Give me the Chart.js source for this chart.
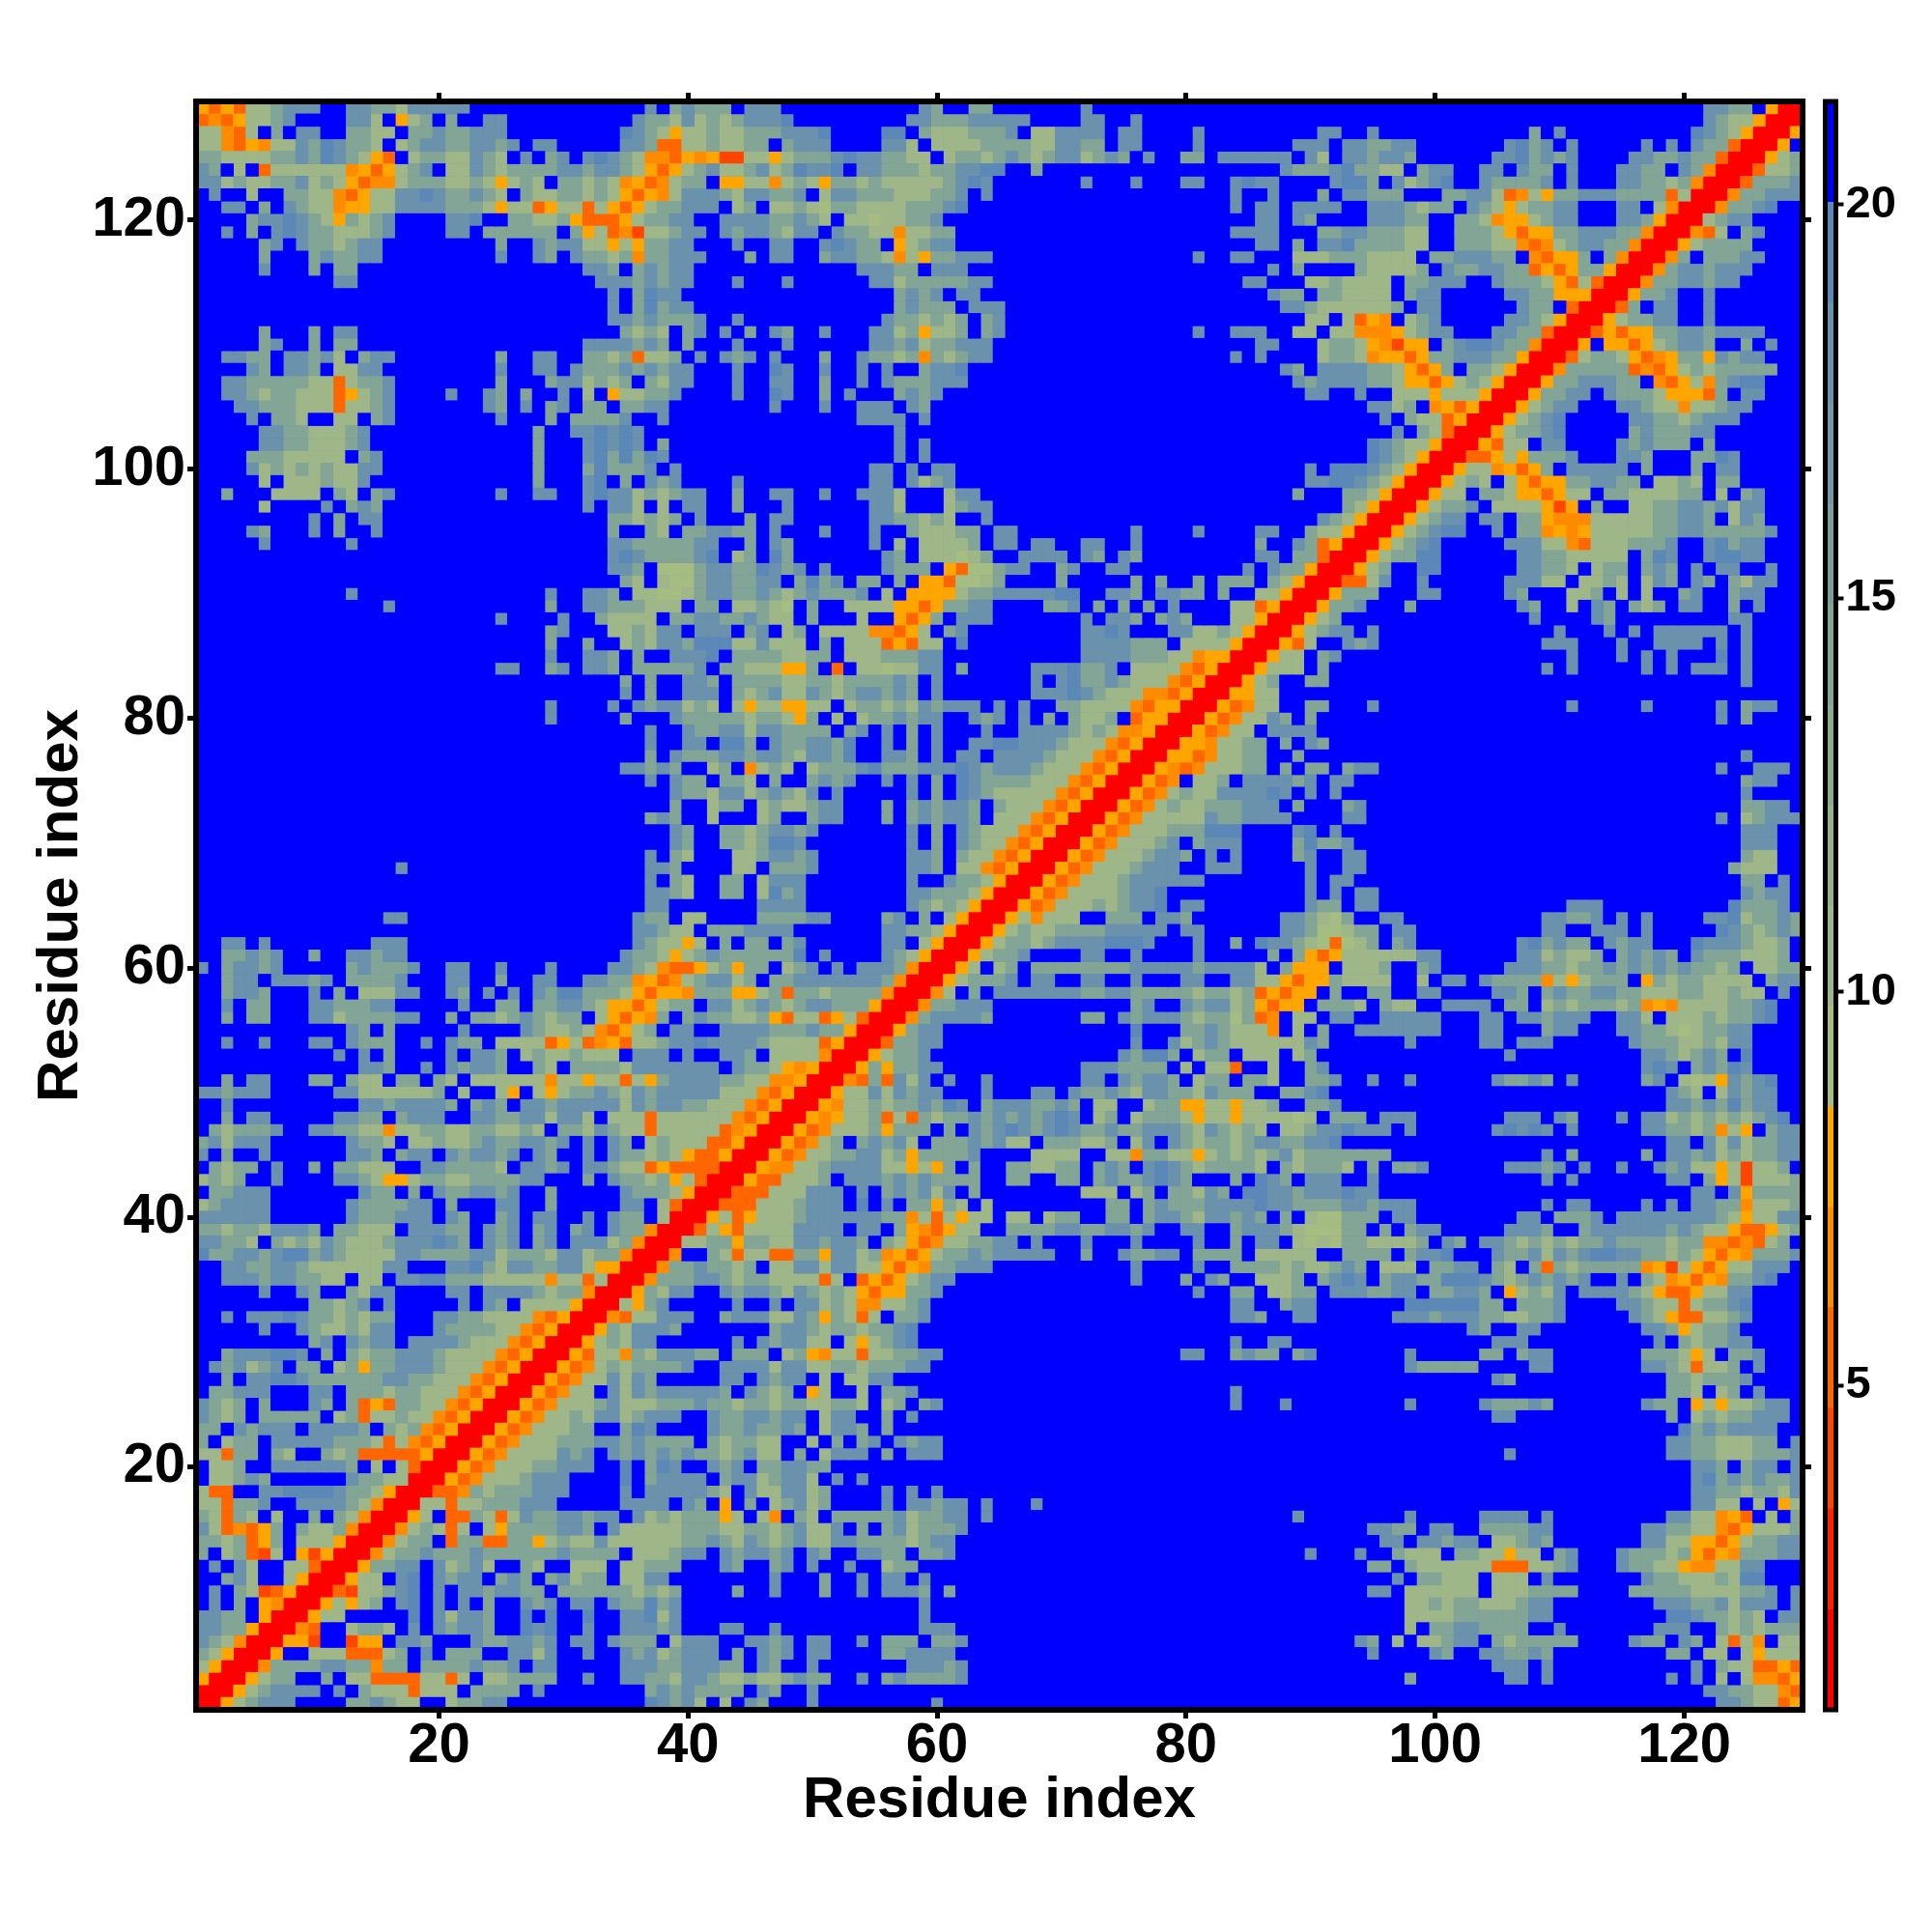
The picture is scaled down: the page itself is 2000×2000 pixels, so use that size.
<!DOCTYPE html>
<html>
<head>
<meta charset="utf-8">
<title>Residue distance map</title>
<script src="https://cdn.jsdelivr.net/npm/chart.js@4/dist/chart.umd.js"></script>
<style>
  html, body { margin: 0; padding: 0; background: #fff; }
  #map { position: absolute; left: 0; top: 0; }
  #bar { position: absolute; left: 1870px; top: 0; }
</style>
</head>
<body>
<canvas id="map" width="2000" height="2000"></canvas>
<canvas id="bar" width="130" height="2000"></canvas>
<script>
// The map is symmetric, so only x <= y is stored. Each list is a block of rows,
// first row at the given y, first char at the given column. Short rows end in blue.
const cellsCol1Y129 = [
  "ynynggmttt..ttmmgttttt", "nonyggmt....ttg.ygm.m..tt", "ggong.m.tt..mmgg.mmtmmttt",
  "ggonyoggtmstmmg.gmttmmttmt.tt", "mmggggmmtmstmgyn.gmmggtmg.t.mt.ts", "tm.g.nggggggoynygmt.ggtmgmmmmttmt",
  "ttgmggmmtgmgynoogmmmggmgygmg.mmgm", ".t..g..mmggonyggttstmmtmg.mggmmgm", "..tt.m.tmggoyyggttttmmmgyggnyggng",
  "....mttstmgymgmt....tts..mmggmynn", "..t.m.tstmmgggmt....tt.mmmmmm.myg", ".....mt.tmmgmtt.........m..tmttgg",
  ".....m...mtmmtt.........t..tm.tmm", ".....t...m.mm..................tt", "...........tt...................t",
  "", "", "",
  ".....m...m.tt", ".....mt..m.mm..................tt", "..ttmm.ttmtg.mtt........m..tt..mm",
  "....tm.ttm.ggtt.........t..tt.tmm", "..ttmmmmmggngmmt........m...mttgm", "..ttmgmmgggnygmt....t..tm.m..t.g.",
  "...ttmmmgggnggmt.......tm.t.mt.mm", "....t.mmg..gg.mt........t...m.mmm", ".....ttmmgggmt.............m..tts",
  ".....ttmmgggmt.............m...ts", "....mmmggggg.mt............m...ts", "....tgmgmgmggtt............m...ms",
  ".....g.gggmggt.............m...ts", "..m...gggg.mg.mt........t..tt..ts", ".....g....t.mtm................t."
];
const cellsCol34Y129 = [
  "...t.mtmmm.ttt...........tm..mm..", "..tmmgtgmgmttts.........ttmmmtttt", ".stmgyggmggmmmttts....ss.mgggmmmt",
  ".ttmnnggmggmm.mttt....ttg.ggggmmm", "tmgoonyoyrrggygmmmtsttmmgg.gmmgmt", "tmgynygmtggmtgmstts.ttmmmgmmttss.",
  "goynogmm.yyggogmgymmgmgggggmtst..", "gynyogtttmgttmmt.gttmmmgggmmt.t..", "ynygmmttt.gm.ggmghmmggggmmmts....",
  "nygmmtt..ttttmmtmg.gghggmmt......", "norggmtt.tmttmgtt.tmmggoggmm.....", "ygymmtt...t..tt..tstmm.ygmtt.....",
  "gmommttt...m.tt..mttmmgogymmttt..", "m.mtmtt.............tttmm.ttt....", "ttmtmtt...t...t......ttgmmmmmtt..",
  "t.mstt.................mtmt.tt...", "t.msmtt................mtmmm.ttt.", "ttmtmmmt..t...........tmmgmgm.mt.",
  ".mgmg.mt.t.m.tm..t...ttgmyggm.mt.", "ttmtm.m...t...t......ttmtgmmttt..", "gmnggm.t.tmt.t...m..tmmgmomgmtt..",
  "mtmtmtt...t..st..t..t.t..mtts....", "gm.mgtt...t..tt..m..t.tmmmttt....", "yggmmt....t..st..m.t...mtmt......",
  ".mmtt........t...t..ttt.tm.......", "mt..t...............tttt.t.......", "tst....................t",
  "tst.m..................t.t", "msmst..................t.t", "mmmt.t...............tt.t.tt",
  ".m.tmt....t..........tt.tgmt", "ttgmgmtt..m..tt..t..tttg...gtt...", "ttg.g.tt..m...t......ttg...gmtt.."
];
const cellsCol67Y129 = [
  ".....t", "t....tt..t", ".ggtttt.tt....t.........tt..t",
  "mggttmm.tt....t.......ttt.ttmmtt.", "mgmttgmtm.t..mm.tttttt.tg.ttmttm.", ".m...................tmmmtsmmgg.m",
  ".....t...t...tt..tstt....tssm.tgm", ".................t..t...m.ttmmm..", ".................t.tt.tttt..tttmg",
  "...................tt.tm....tttmm", ".................tttt...mmttmmmgg", "...................tt.m.ttsmmmmgg",
  "..............t..tt...gggmmmgggg.", "....................t.m....mggggm", "..................tt...ggmgggg.mm",
  "....................tmm.mmgggg.mt", ".....................ttmggggggm.t", ".......................gg.gnyo.gm",
  "..............t..ttt..gg.ggoooygm", "...................tt...gmmgyoryy", ".................t.t....gmmgoyyny",
  ".....................tm.ttttmmgyn", "......................tmttttmmgyy", ".......................tt..t..ggg",
  "............................ttgm.", ".............................t.mg", "..............................t.m",
  "............................stmgg", "............................stmgy", ".......................t.ssstmgyR",
  ".......................ttsstmgyRR", "......................m...mmgyRRR", "..........................mgyRRRy"
];
const cellsCol100Y129 = [
  "......................ttmm.yRR", "......................tmggyRR", "........m.t..........stmgyRR",
  "......tsmt.t.....t.t.tmmnRR", ".....ttsmtmt....ttmmtmmnRR", "tt..tt.tmm.t...ttmm.tmoRR",
  "ts..tmmmmt.t...ttmmgmoRR", ".mmttgnogymmtttmmmmngRR", "mm.tmgygmmtt...tt.goRR",
  "..mmgoyygmtt...ttmyRR", "..mmmgynyymmtttmmoRR", "..mmmggonogmttmmoRR",
  "mmtttmm.onyym.moRR", ".tmmttmmnynymmyRR", "ttt..tmmmgyngnRR",
  "t.....ttmmyyyRR", "t......tmm.nRR", "t.....ttmgyRR",
  "tt...ttmmnRR", ".mtsstmmoRR", "mmtttmmyRR",
  "ym.mmgyRR", "nygmgyRR", "ygggyRR",
  "oynyRR", "gnyRR", "gnRR", "yRR", "RR", "R"
];
const cellsCol1Y96 = [
  ".........t.m.tt", "....tm...t.m..t", ".....t......t",
  "", "", "",
  "............t...............t..tt", "...............t............m..tt", "........................t....t..m",
  "............................mt", "............................m..m", "............................t..tt",
  "........................tt..mt.tt", "", "",
  "............................t", "............................t", "",
  "", "", "", "", "", "", "", "", "", "",
  "................t", "", "", "",
  "...............tt"
];
const cellsCol34Y96 = [
  "mmgmgm.t...m.tt......ttmmgmg..t..", "m..mg.mmttmm.t...t...t..mgggmm.tt", "ttmmmmmtt..m.tm......t.g.ggggm.tt",
  "tstmmmmts.gm.sm.......tm.ggghgm..", "ttm.hhhmttmmstmt.t....tmmm.ynhhmt.", ".mg.ghhmttmmtt.msmt.mm.m.yynhhgm.",
  "m.gghhgmttmmtmgmtmmmt.g.yyyygmmtt", "mmmggg.mm.ggmgh.m..ggggyynymmtt..", "gggg.mmttmmtmgg.m...g..ynym.ttt..",
  "ggmgtt.ttt.mt.gm.ggggoonyg.mt....", ".gmgttmsssggtggg.m.gggnyngg.s....", "m.m..ttts.mmmmggmm.gggmmmtt......",
  "m.mmmmmt.mmgggyym.n.gghggtt.m....", ".m.m..ttm.mmmmggmmgmmmmtm.t......", ".t.m..ttt.mgmtggtmgmttmtm.t......",
  "t.tmttgmg.gyggyygg.gmmgmgtmttt.t.", ".m...tmmmmmgmmgym.g.gmmtmtt..tmt.", "...t..tmmttgttmmmm.mt.t.m.t...t..",
  "...t..tt.ssm.tmmttms..t.m.t..ttss", "...m.tmmmttmttmgttms..ttm.t.tt.tt", ".ttmtm..gm.ogmg.gmmmtsmmmtttstmtt",
  "...t.tmm.mmg.m..mtmt..t.t.m.stmmm", ".....tmmgttgmtmgt.t.....t.m.stmgg", ".....m..gmm.gmggmtt...m.mtmttm.mg",
  "...mtm..g...gm..mtt...m.mtmttm.gg", ".....tm..mmgmttmt.......t.m.tmggg", ".....tm..mmgmsst........t.m.tmggo",
  "...t.mg...ggmttmt.......ttm.mggon", "...ttm....gg.mmmt.......ttm.ggony", "...t.mg..mm.gttt........t..tmmgyR",
  "...ttmg..mm.gsmt........ttmmmgyRR", "...tt.......tttt........tmgmgyRRR", "..tmm.gg....mmmmtt....mt.m.gyRRRy"
];
const cellsCol67Y96 = [
  "........................tmgyRR", ".........t....t....tt..mggyRR", ".tt..tt..t.........m..tmnyRR",
  "tttt.tm.tm.........tt.mmnRR", "t..mt..tt.........t.tmmyRR", "...m.....m.m..m.mmm.mgyRR",
  "tttss..ttm.ttmm.m..ggyRR", "..mmt.m.m.m.t....ggnyRR", ".....t.ttm.mtm...ggyRR",
  ".....ttst...ttggmgyRR", ".....ttttmmm.ggggyRR", ".....ttttmmmggoyyRR",
  ".tttsmmt.ggggonyRR", ".t.tsmmtmgggonyRR", ".tttstmgggoonyRR",
  "t..mmggggonyyRR", "t.m.mggm.nyyRR", "ttttmgmgooyRR",
  "tttmgggonyRR", "ttmgggonyRR", "tmgggonyRR",
  "mgggonyRR", "gggonyRR", "ggonyRR",
  "gonyRR", "onyRR", "nyRR", "yRR", "RR", "R"
];
const cellsCol1Y63 = [
  "", "..tt.t........ttt", "..mmtmt..m..ttmtt",
  "t.mttmt.....mtmmmt..tt..t...t", "..mtt.tttmt.mmmmt...tt..m..tt..tt", "..mttm...t.m.gggtt..tm.t.t.tmssmm",
  "..t.mm...ttmmmtt.....t..mm.mmttmg", "..m.mm...ttgmmmmtt..m.mmgmtmgmm.g", "............tm.m.....t....tmggmgo",
  "..t..t...tt.tmmm..t.tmm.ggggnygno", "...........t.t.m....t.ttm.gmggmgg", ".............ttm..t.tmttm..mg.mmm",
  "..m.tt...mm.mgg.mm.mg.ggggggoggyg", "ttmttt.....ttggggggm.g..gy.gygmmt", "..t..........ttmttttm.mtm.ttmtttt",
  "..m.tt.....ttmm.mttt..ttmmttgttg.", ".mgmmmt..ttmmggoggmmggmmggmg.mmgt", "mtgttt......tmmg.ggmggmtmmttmt.t.",
  "t.m..t......ttm.mtt.tmttmt.tm..t.", ".mgmm.t..m.mmggg..ttmmmmg.ttmt.tt", "gmgm..t....ttmgyygmmggmmmmtt...m.",
  ".mmttt.......tmm.m.tmmttmt..m....", "gmtttt......tmmmmtt.m...tt..m....", "tttttt......tmmmttt.tm..mt.tt..t.",
  "mmgmmgtttm.mmggg.tttmm.tmt.mt.mt.", "ttmmg.mgmgtmgggmtttstm.tmt.mt.ttt", "smmttmtssmtmggggttmmmmttgmmmgttgm",
  "..ttmmttmggggggtt...ttsmgttmmttgy", "..tttmttmmgg.gg.ttssmmmgggggoggng", ".....t..tm..mgtt....tt.ttttmgmmoR",
  ".........mmgmt.t.....t.tm.ggggyRR", "..t.tttstmmgmgmm...ttmmggggonyRRR", ".....t..tmggmgtt...tmmmmggonyRRRy"
];
const cellsCol34Y63 = [
  "..ttmgg.mmmtttt.......ttmmgyRR", "..tmggyg.m.mm.mt......tt.gyRR", ".tmmgygmtmmmmmms.t....tmgyRR",
  "ttmgonnygmymm.gmt.t.tttmoRR", "mmoynogmttgm.mmtttttttmoRR", "mgynyyommmyygmnmmgmmmmoRR",
  "yynygmm.ttgmtmgmttmmmyRR", "ynyom.mtmmggmynggnygnRR", "nygm.tt..ttttmmmtmmyRR",
  "ynggmttsttttmggggnyRR", "g.ttt.t..ttm.ggggoRR", "mgttttttt.tmmgyoyRR",
  "gngymttttmmggooyRR", "mgtmtttttgggonyRR", "tgtmttmmgggonyRR",
  "gggnggggggonyRR", "mggngggggnoyRR", "tm.gmgggnnyRR",
  "tmmgmgynnyRR", "mggnynnnnRR", "tmmgmygnRR",
  ".tmmmgyRR", ".tt.gnRR", "tmm.gRR",
  "tmmoRR", "gmoRR", "moRR", "yRR", "RR", "R"
];
const cellsCol1Y30 = [
  ".........mt.tmtt.ttttmgggonyRR", "..mtttsst.m.mgmmtttmggggonyRR", ".tmtgmt.mm.gmymmtttmgggonyRR",
  "..m.ttsstmmmmmmttmmgggonyRR", ".mmttt...tt.mmmgmmgggonyRR", "tmgm.m...tm.mnynmmggonyRR",
  "tmgm.mmmmm.gmnggmggonyRR", "mm.tmttt.ttttm.mgmonyRR", "m.gmm.tttttmmmgngonyRR",
  "ggnmm.mg..mgmnnnnnyRR", ".ggm..ttttttm.g.gnRR", ".ggmtm......tmmggRR",
  "gnn..ttsssstmmgyRR", "ggnmmt..ttttmgoRR", "mgnmg.g..m.mgoRR",
  "tgnonym.mggmoRR", "mmgmnym.gggyRR", "m.gmnrg.yryRR",
  ".t.tg..ggnRR", "..mtg..gyRR", ".t.mgrnyRR",
  ".t.m.yoRR", "ttmm.yRR", "ttmmyRR",
  "tmgoRR", "mgyRR", "gyRR", "yRR", "RR", "R"
];

const cellBlocks = [
  [1, 129, cellsCol1Y129], [34, 129, cellsCol34Y129], [67, 129, cellsCol67Y129], [100, 129, cellsCol100Y129],
  [1, 96, cellsCol1Y96], [34, 96, cellsCol34Y96], [67, 96, cellsCol67Y96],
  [1, 63, cellsCol1Y63], [34, 63, cellsCol34Y63],
  [1, 30, cellsCol1Y30]
];

const residueCount = 129;
const axisTicks = [20, 40, 60, 80, 100, 120];
const barTicks = [5, 10, 15, 20];
const barEdges = [0.88, 2.15, 3.43, 4.71, 5.99, 7.26, 8.54, 9.82, 11.09, 12.37, 13.65, 14.92, 16.2, 17.48, 18.75, 20.03, 21.31];
const bandColors = ["#ff0000", "#ff2200", "#ff4500", "#ff6600", "#ff8c00", "#ffa500",
  "#a6bd82", "#9fb788", "#95b18c", "#8bab90", "#82a596", "#7a9f9e", "#7298a5", "#6a92ac", "#5c88b8", "#0000ff"];
const codeBand = { R: 0, r: 2, n: 3, o: 4, y: 5, h: 6, g: 7, m: 10, t: 13, s: 14, ".": 15 };

const fontFamily = '"Liberation Sans", Arial, sans-serif';

// unpack the stored half and mirror it
const bands = [];
for (let y = 0; y <= residueCount; y++) bands.push(new Array(residueCount + 1).fill(15));
cellBlocks.forEach(([firstCol, firstY, rows]) => {
  rows.forEach((row, j) => {
    const y = firstY - j;
    for (let k = 0; k < row.length; k++) {
      const x = firstCol + k;
      if (x > y) break;
      bands[y][x] = codeBand[row[k]];
      bands[x][y] = codeBand[row[k]];
    }
  });
});

const cellPoints = bandColors.map(() => []);
for (let y = 1; y <= residueCount; y++) {
  for (let x = 1; x <= residueCount; x++) cellPoints[bands[y][x]].push({ x, y });
}

// black frame over the cells, and a blue backing so cell seams stay blue
const frame = lineWidth => ({
  id: "frame",
  beforeDatasetsDraw(chart) {
    const { ctx, chartArea: a } = chart;
    ctx.save();
    ctx.fillStyle = bandColors[15];
    ctx.fillRect(a.left, a.top, a.right - a.left, a.bottom - a.top);
    ctx.restore();
  },
  afterDatasetsDraw(chart) {
    const { ctx, chartArea: a } = chart;
    ctx.save();
    ctx.strokeStyle = "#000";
    ctx.lineWidth = lineWidth;
    ctx.strokeRect(a.left, a.top, a.right - a.left, a.bottom - a.top);
    ctx.restore();
  }
});

const fixedTicks = values => scale => { scale.ticks = values.map(value => ({ value })); };
const tickMarks = { drawOnChartArea: false, drawTicks: true, tickLength: 9, tickWidth: 5, color: "#000" };
const tickFont = { family: fontFamily, size: 58, weight: "bold" };
const titleFont = { family: fontFamily, size: 60, weight: "bold" };

function residueAxis(position, extra) {
  return Object.assign({
    type: "linear", position, min: 0.5, max: residueCount + 0.5,
    afterBuildTicks: fixedTicks(axisTicks),
    grid: tickMarks, border: { display: false }
  }, extra);
}

new Chart(document.getElementById("map"), {
  type: "scatter",
  data: {
    datasets: bandColors.map((color, i) => ({
      data: cellPoints[i],
      pointStyle: "rect",
      pointRadius: 9.6,
      pointBorderWidth: 0,
      pointBackgroundColor: color,
      order: 15 - i
    }))
  },
  options: {
    responsive: false, animation: false, events: [],
    layout: { padding: 0 },
    plugins: { legend: { display: false }, tooltip: { enabled: false } },
    scales: {
      x: residueAxis("bottom", {
        afterFit: s => { s.height = 230; },
        ticks: { font: tickFont, color: "#000", padding: -6, autoSkip: false, maxRotation: 0, callback: v => String(v) },
        title: { display: true, text: "Residue index", font: titleFont, color: "#000", padding: { top: 0, bottom: 100 } }
      }),
      y: residueAxis("left", {
        afterFit: s => { s.width = 203; },
        ticks: { font: tickFont, color: "#000", padding: 2, autoSkip: false, callback: v => String(v) },
        title: { display: true, text: "Residue index", font: titleFont, color: "#000", padding: { top: 27, bottom: 0 } }
      }),
      xTop: residueAxis("top", { afterFit: s => { s.height = 105; }, ticks: { display: false } }),
      yRight: residueAxis("right", { afterFit: s => { s.width = 134; }, ticks: { display: false } })
    }
  },
  plugins: [frame(6)]
});

new Chart(document.getElementById("bar"), {
  type: "bar",
  data: {
    labels: [""],
    datasets: bandColors.map((color, i) => ({
      data: [[barEdges[i], barEdges[i + 1]]],
      backgroundColor: color,
      borderWidth: 0,
      grouped: false,
      barPercentage: 1,
      categoryPercentage: 1
    }))
  },
  options: {
    responsive: false, animation: false, events: [],
    layout: { padding: { left: 19.5, top: 105, bottom: 230, right: 0 } },
    plugins: { legend: { display: false }, tooltip: { enabled: false } },
    scales: {
      x: { display: false },
      y: {
        position: "right", min: barEdges[0], max: barEdges[barEdges.length - 1],
        afterBuildTicks: fixedTicks(barTicks),
        afterFit: s => { s.width = 99.5; },
        grid: { drawOnChartArea: false, drawTicks: true, tickLength: 8, tickWidth: 4, color: "#000" },
        border: { display: false },
        ticks: { font: { family: fontFamily, size: 47, weight: "bold" }, color: "#000", padding: 2, autoSkip: false, callback: v => String(v) }
      }
    }
  },
  plugins: [frame(5)]
});
</script>
</body>
</html>
